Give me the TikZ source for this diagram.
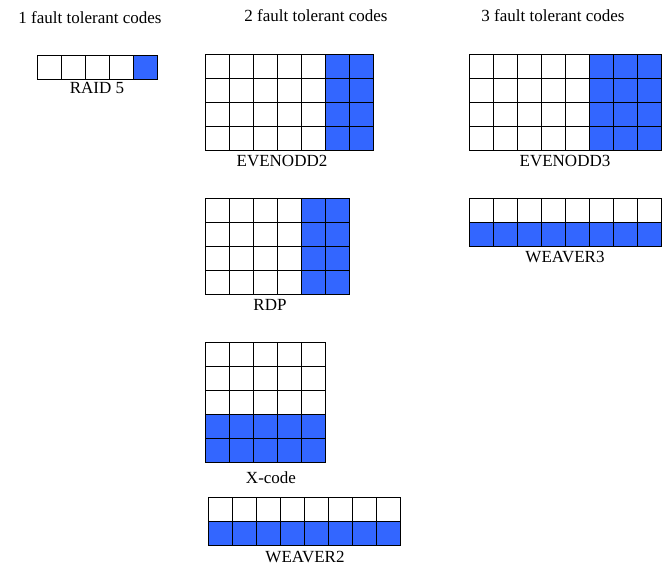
\documentclass[tikz,border=0pt]{standalone}
\usepackage{fontspec}
\setmainfont{Liberation Serif}
\definecolor{cblue}{HTML}{3366FF}
\newcommand{\cellgrid}[6]{% x y cols rows bluecolfrom bluerowfrom (1-based; 99 none)
  \foreach \i in {1,...,#3}{\foreach \j in {1,...,#4}{
    \pgfmathsetmacro{\isb}{(\i>=#5)||(\j>=#6)}
    \ifdim\isb pt>0.5pt \def\fc{cblue}\else\def\fc{white}\fi
    \draw[cell,fill=\fc] ({#1+(\i-1)*24},{-(#2+(\j-1)*24)}) rectangle ++(24,-24);
  }}}
\begin{document}
\begin{tikzpicture}[x=1pt,y=1pt,
  cell/.style={draw=black,line width=0.8pt},
  lbl/.style={font=\fontsize{17}{20}\selectfont,inner sep=0pt}]
\useasboundingbox (0,0) rectangle (662,-572);
\node[lbl] (h1) at (90,-18) {1 fault tolerant codes};
\node[lbl] (h2) at (316,-16) {2 fault tolerant codes};
\node[lbl] (h3) at (553,-16) {3 fault tolerant codes};
\cellgrid{37}{55}{5}{1}{5}{99}
\node[lbl] (l1) at (97,-88) {RAID 5};
\cellgrid{205}{54}{7}{4}{6}{99}
\node[lbl] (l2) at (282,-161) {EVENODD2};
\cellgrid{205}{198}{6}{4}{5}{99}
\node[lbl] (l3) at (270,-305) {RDP};
\cellgrid{205}{342}{5}{5}{99}{4}
\node[lbl] (l4) at (271,-478) {X-code};
\cellgrid{208}{497}{8}{2}{99}{2}
\node[lbl] (l5) at (305,-557) {WEAVER2};
\cellgrid{469}{54}{8}{4}{6}{99}
\node[lbl] (l6) at (565,-161) {EVENODD3};
\cellgrid{469}{198}{8}{2}{99}{2}
\node[lbl] (l7) at (565,-257) {WEAVER3};
\end{tikzpicture}
\end{document}
